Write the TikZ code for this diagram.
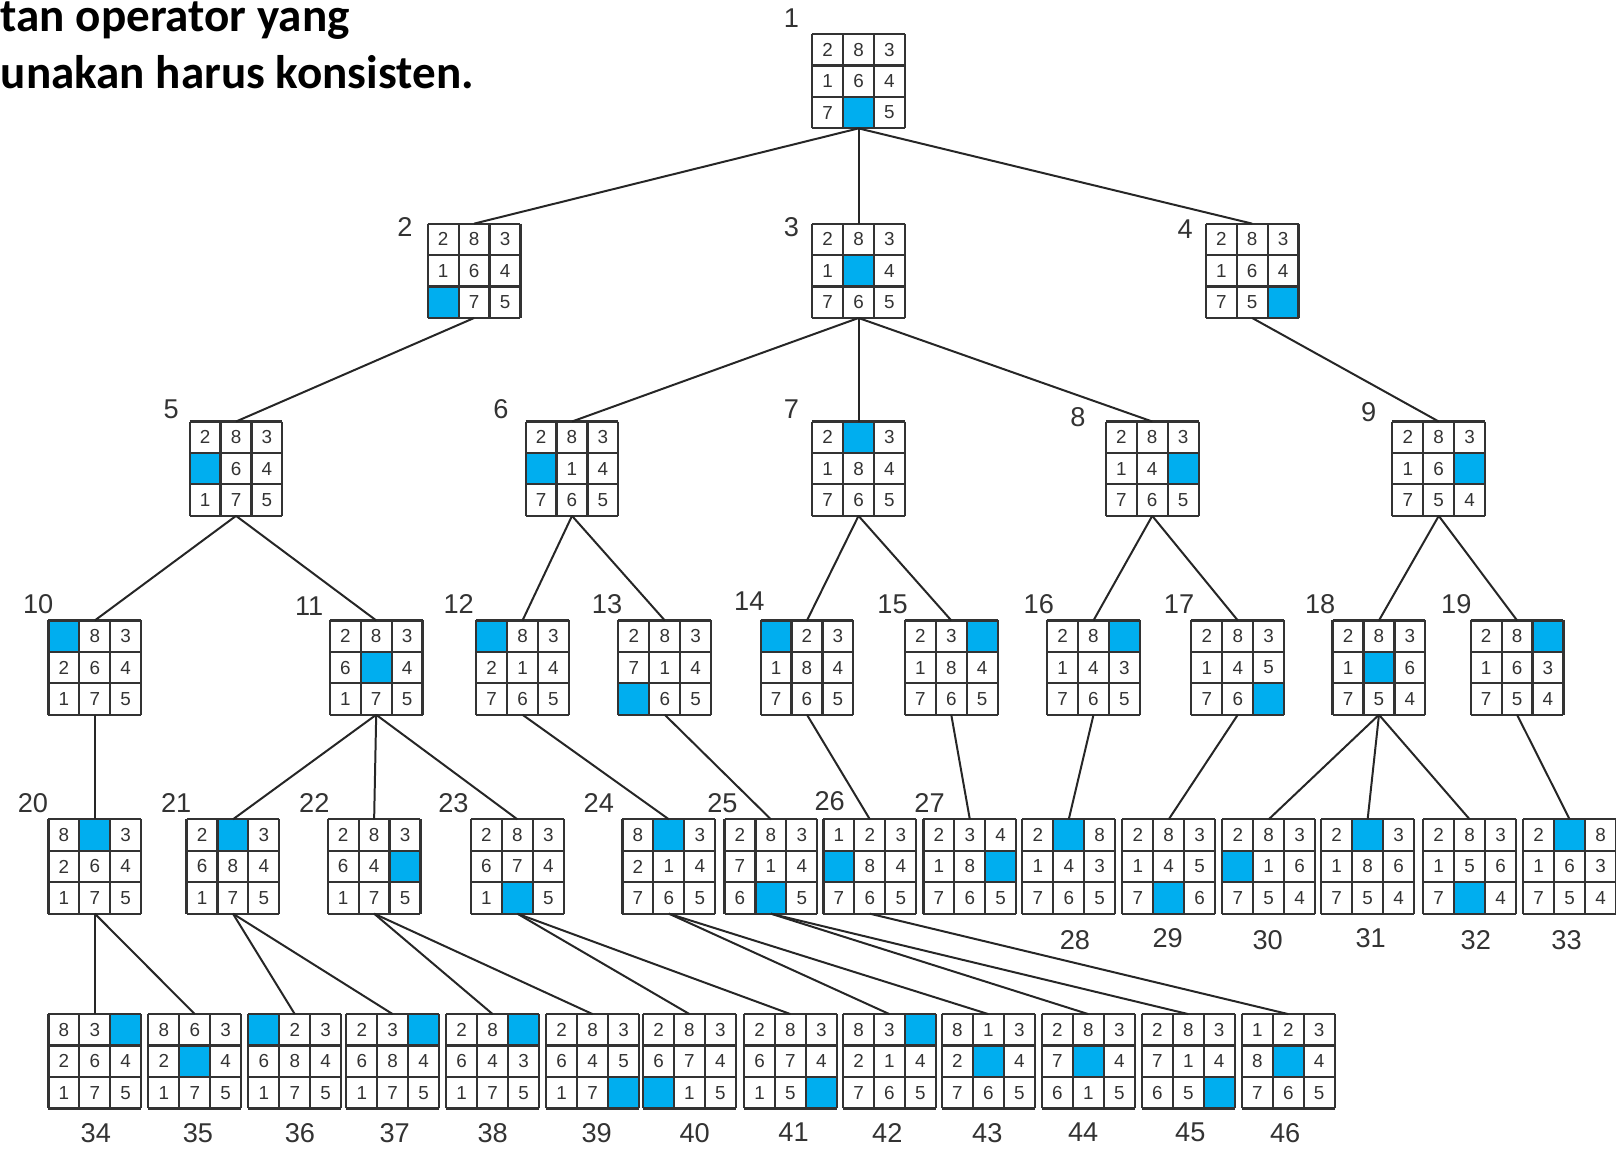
\documentclass[tikz,border=0pt]{standalone}
\usepackage{fontspec}
\setmainfont{Liberation Sans}
\newfontfamily\headfont{Carlito}
\definecolor{hole}{RGB}{0,174,239}
\definecolor{ink}{RGB}{51,51,51}

\tikzset{
  board/.style={minimum width=0.9cm, minimum height=0.915cm, inner sep=0pt, outer sep=0pt},
  tile/.style={font=\fontsize{5.2}{6}\selectfont, text=ink, inner sep=0pt},
  tag/.style={font=\fontsize{7.5}{9}\selectfont, text=ink, inner sep=0pt},
  head/.style={font={\headfont\bfseries\fontsize{13}{15}\selectfont}, inner sep=0pt, anchor=base west},
  cellline/.style={line width=0.6pt, draw=ink},
  edge/.style={line width=0.55pt, black!85},
}

% \board{number}{top left}{label centre}{tiles row by row, 0 = blank}
\newcommand{\board}[4]{%
  \node[board, anchor=north west] (b#1) at (#2) {};
  \node[tag] (t#1) at (#3) {#1};
  \begin{scope}[shift={(b#1.north west)}]
    \foreach \tv [count=\k from 0] in {#4} {
      \pgfmathtruncatemacro\rr{\k/3}
      \pgfmathtruncatemacro\cc{mod(\k,3)}
      \ifnum\tv=0\relax
        \fill[hole] (\cc*30,\rr*30.5) rectangle ++(30,30.5);
      \else
        \node[tile] (b#1-\k) at (\cc*30+15,\rr*30.5+15.25) {\tv};
      \fi
    }
    \foreach \i in {0,1,2,3} {
      \draw[cellline] (\i*30,0) -- (\i*30,91.5);
      \draw[cellline] (0,\i*30.5) -- (90,\i*30.5);
    }
  \end{scope}
}

\begin{document}
\begin{tikzpicture}[x=0.01cm, y=-0.01cm]
  \useasboundingbox (0,0) rectangle (1568,1115);

  \node[head] (h1) at (0,31) {tan operator yang};
  \node[head] (h2) at (0,86) {unakan harus konsisten.};

  % depth 0 to 2
  \board{1}{788,33}{768,18}{2,8,3,1,6,4,7,0,5}
  \board{2}{415,217}{393,220}{2,8,3,1,6,4,0,7,5}
  \board{3}{788,217}{768,220}{2,8,3,1,0,4,7,6,5}
  \board{4}{1170,217}{1150,222}{2,8,3,1,6,4,7,5,0}
  \board{5}{184,409}{166,397}{2,8,3,0,6,4,1,7,5}
  \board{6}{510,409}{486,397}{2,8,3,0,1,4,7,6,5}
  \board{7}{788,409}{768,397}{2,0,3,1,8,4,7,6,5}
  \board{8}{1073,409}{1046,405}{2,8,3,1,4,0,7,6,5}
  \board{9}{1351,409}{1328,400}{2,8,3,1,6,0,7,5,4}

  % depth 3
  \board{10}{47,602}{37,586}{0,8,3,2,6,4,1,7,5}
  \board{11}{320,602}{300,588}{2,8,3,6,0,4,1,7,5}
  \board{12}{462,602}{445,586}{0,8,3,2,1,4,7,6,5}
  \board{13}{600,602}{589,586}{2,8,3,7,1,4,0,6,5}
  \board{14}{738,602}{727,583}{0,2,3,1,8,4,7,6,5}
  \board{15}{878,602}{866,586}{2,3,0,1,8,4,7,6,5}
  \board{16}{1016,602}{1008,586}{2,8,0,1,4,3,7,6,5}
  \board{17}{1156,602}{1144,586}{2,8,3,1,4,5,7,6,0}
  \board{18}{1293,602}{1281,586}{2,8,3,1,0,6,7,5,4}
  \board{19}{1427,602}{1413,586}{2,8,0,1,6,3,7,5,4}

  % depth 4
  \board{20}{47,795}{32,779}{8,0,3,2,6,4,1,7,5}
  \board{21}{181,795}{171,779}{2,0,3,6,8,4,1,7,5}
  \board{22}{318,795}{305,779}{2,8,3,6,4,0,1,7,5}
  \board{23}{457,795}{440,779}{2,8,3,6,7,4,1,0,5}
  \board{24}{604,795}{581,779}{8,0,3,2,1,4,7,6,5}
  \board{25}{703,795}{701,779}{2,8,3,7,1,4,6,0,5}
  \board{26}{799,795}{805,777}{1,2,3,0,8,4,7,6,5}
  \board{27}{896,795}{902,779}{2,3,4,1,8,0,7,6,5}
  \board{28}{992,795}{1043,912}{2,0,8,1,4,3,7,6,5}
  \board{29}{1089,795}{1133,910}{2,8,3,1,4,5,7,0,6}
  \board{30}{1186,795}{1230,912}{2,8,3,0,1,6,7,5,4}
  \board{31}{1282,795}{1330,910}{2,0,3,1,8,6,7,5,4}
  \board{32}{1381,795}{1432,912}{2,8,3,1,5,6,7,0,4}
  \board{33}{1478,795}{1520,912}{2,0,8,1,6,3,7,5,4}

  % depth 5
  \board{34}{47,984}{93,1099}{8,3,0,2,6,4,1,7,5}
  \board{35}{144,984}{192,1099}{8,6,3,2,0,4,1,7,5}
  \board{36}{241,984}{291,1099}{0,2,3,6,8,4,1,7,5}
  \board{37}{336,984}{383,1099}{2,3,0,6,8,4,1,7,5}
  \board{38}{433,984}{478,1099}{2,8,0,6,4,3,1,7,5}
  \board{39}{530,984}{579,1099}{2,8,3,6,4,5,1,7,0}
  \board{40}{624,984}{674,1099}{2,8,3,6,7,4,0,1,5}
  \board{41}{722,984}{770,1099}{2,8,3,6,7,4,1,5,0}
  \board{42}{818,984}{861,1099}{8,3,0,2,1,4,7,6,5}
  \board{43}{914,984}{958,1099}{8,1,3,2,0,4,7,6,5}
  \board{44}{1011,984}{1051,1099}{2,8,3,7,0,4,6,1,5}
  \board{45}{1108,984}{1155,1099}{2,8,3,7,1,4,6,5,0}
  \board{46}{1205,984}{1247,1099}{1,2,3,8,0,4,7,6,5}

  \foreach \p/\q in {1/2,1/3,1/4,2/5,3/6,3/7,3/8,4/9,5/10,5/11,6/12,6/13,7/14,7/15,
                     8/16,8/17,9/18,9/19,10/20,11/21,11/22,11/23,12/24,13/25,14/26,
                     15/27,16/28,17/29,18/30,18/31,18/32,19/33,20/34,20/35,21/36,21/37,
                     22/38,22/39,23/40,23/41,24/42,24/43,25/44,25/45,26/46}
    \draw[edge] (b\p.south) -- (b\q.north);
\end{tikzpicture}
\end{document}
